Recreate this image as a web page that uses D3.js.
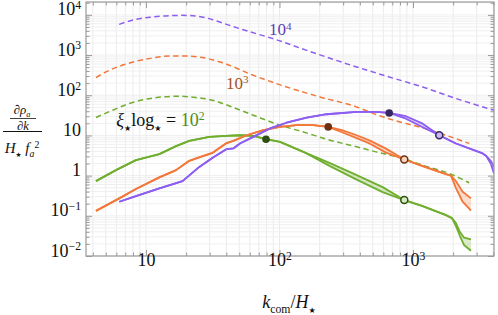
<!DOCTYPE html>
<html>
<head>
<meta charset="utf-8">
<script src="https://cdn.jsdelivr.net/npm/d3@7"></script>
<style>
  body { margin: 0; background: #fff; }
  text { font-family: 'Liberation Serif', 'DejaVu Serif', serif; }
</style>
</head>
<body>
<div id="chart"></div>
<script>
// ---- data ----
// dashed curves: xi*log = 1e4, 1e3, 1e2
const kDash4 = [6.3, 8.4, 11.2, 15.0, 18.8, 23.7, 31.6, 37.6, 50.6, 98, 160, 379, 664, 1180, 2100, 4050]
const vDash4 = [5810, 7730, 8820, 9550, 9720, 9330, 7600, 6250, 4520, 2320, 1310, 505, 285, 161, 82.8, 42.4]
const kDash3 = [4.22, 5.01, 6.31, 8.41, 11.2, 15.0, 20.0, 26.6, 37.6, 63.7, 113, 201, 379, 528, 746, 1115, 1766, 2640]
const vDash3 = [275, 380, 525, 700, 845, 947, 947, 865, 641, 314, 161, 90.7, 51.2, 33.1, 23.0, 16.3, 10.1, 6.3]
const kDash2 = [4.22, 5.63, 7.5, 10, 13.3, 17.7, 23.7, 31.6, 37.6, 63.7, 101, 151, 239, 379, 528, 837, 1180, 1870, 2640]
const vDash2 = [27.9, 42.4, 62.2, 79.6, 90.8, 94.5, 87.7, 75.2, 62.2, 31.8, 18.0, 12.2, 7.62, 5.2, 3.9, 2.67, 1.82, 1.13, 0.663]

// solid curves with their upper / lower edges (equal where there is no band)
const kGreen = [4.22, 5.96, 8.41, 12.6, 16.8, 21.1, 29.8, 39.7, 50.6, 63.6, 79.3, 101, 151, 239, 379, 593, 861, 1183, 1767, 1960, 2099, 2249, 2410, 2720]
const greenHi = [0.73, 1.37, 2.43, 3.42, 5.41, 7.33, 9.21, 9.75, 10.1, 9.75, 8.07, 6.92, 3.91, 2.05, 1.03, 0.517, 0.246, 0.175, 0.104, 0.0878, 0.066, 0.0394, 0.0288, 0.026]
const greenLo = [0.73, 1.37, 2.43, 3.42, 5.41, 7.33, 9.21, 9.75, 10.1, 9.75, 8.07, 6.92, 3.91, 1.72, 0.795, 0.389, 0.246, 0.175, 0.104, 0.0878, 0.0556, 0.0314, 0.0188, 0.0135]

const kOrange = [4.22, 6.31, 8.41, 12.6, 16.8, 21.1, 26.6, 31.6, 39.7, 45.1, 56.8, 75.7, 101, 134.6, 179, 232, 294, 379, 476, 628, 861, 1183, 1766, 1925, 2099, 2356, 2720]
const orangeHi = [0.133, 0.272, 0.463, 0.903, 1.37, 2.33, 3.05, 3.69, 6.31, 7.33, 10.1, 13.5, 16.3, 18.0, 18.0, 16.3, 13.5, 10.1, 7.41, 4.69, 2.52, 1.72, 1.09, 1.0, 0.73, 0.396, 0.271]
const orangeLo = [0.133, 0.272, 0.463, 0.903, 1.37, 2.33, 3.05, 3.69, 6.31, 7.33, 10.1, 13.5, 16.3, 18.0, 18.0, 16.3, 12.0, 8.55, 6.24, 3.73, 2.52, 1.72, 1.09, 1.0, 0.489, 0.224, 0.134]

const kPurple = [6.31, 8.41, 12.6, 18.8, 25.1, 31.6, 39.7, 45.1, 50.6, 63.6, 84.9, 113, 160, 226, 379, 528, 664, 887, 1183, 1574, 2099, 3327, 3524, 3841, 4046]
const purpleHi = [0.224, 0.31, 0.481, 0.73, 1.65, 2.77, 4.48, 4.74, 6.31, 9.21, 14.9, 20.7, 27.9, 33.7, 38.5, 38.5, 36.3, 30.1, 19.6, 10.1, 6.31, 3.56, 3.14, 2.29, 1.66]
const purpleLo = [0.224, 0.31, 0.481, 0.73, 1.65, 2.77, 4.48, 4.74, 6.31, 9.21, 14.9, 20.7, 27.9, 33.7, 38.5, 38.5, 36.3, 26.1, 16.0, 10.1, 6.31, 3.56, 3.14, 1.93, 1.13]

// markers: filled (peak) and open
const dotK = [79.3, 232, 664]
const dotV = [8.07, 16.3, 36.3]
const ringK = [861, 861, 1574]
const ringV = [0.246, 2.52, 10.1]

// ticks
const xMajor = [10, 100, 1000]
const xLabels = [['10', ''], ['10', '2'], ['10', '3']]
const yMajor = [0.01, 0.1, 1, 10, 100, 1000, 10000]
const yLabels = [['10', '\u22122'], ['10', '\u22121'], ['1', ''], ['10', ''], ['10', '2'], ['10', '3'], ['10', '4']]

// ---- layout ----
const W = 498
const H = 315
const margin = { top: 2, left: 86, right: 4, bottom: 59 }

const purple = '#8c5df0'
const orange = '#f2773a'
const green = '#70ae2f'
const STAR = '\u2605'

const svg = d3
  .select('#chart')
  .append('svg')
  .attr('width', W)
  .attr('height', H)

const x = d3
  .scaleLog()
  .domain([3.556, 4046])
  .range([margin.left, W - margin.right])
const y = d3
  .scaleLog()
  .domain([0.01, 20900])
  .range([H - margin.bottom, margin.top])

const minors = (scale, majors) => {
  const [a, b] = scale.domain()
  const out = []
  for (let e = -3; e <= 5; e++) {
    for (let m = 2; m <= 9; m++) {
      const v = m * Math.pow(10, e)
      if (v >= a && v <= b) out.push(v)
    }
  }
  return out.filter(v => !majors.includes(v))
}
const xMinor = minors(x, xMajor)
const yMinor = minors(y, yMajor)

svg
  .append('defs')
  .append('clipPath')
  .attr('id', 'clip')
  .append('rect')
  .attr('x', margin.left)
  .attr('y', margin.top)
  .attr('width', W - margin.left - margin.right)
  .attr('height', H - margin.top - margin.bottom)

// grid
const grid = svg.append('g')
grid
  .selectAll('.vgrid')
  .data(xMajor.concat(xMinor))
  .enter()
  .append('line')
  .attr('x1', d => x(d))
  .attr('x2', d => x(d))
  .attr('y1', margin.top)
  .attr('y2', H - margin.bottom)
  .attr('stroke', '#ebebeb')
grid
  .selectAll('.hgrid')
  .data(yMajor.concat(yMinor))
  .enter()
  .append('line')
  .attr('y1', d => y(d))
  .attr('y2', d => y(d))
  .attr('x1', margin.left)
  .attr('x2', W - margin.right)
  .attr('stroke', '#efefef')

const plot = svg.append('g').attr('clip-path', 'url(#clip)')

const zip = (ks, vs) => ks.map((k, i) => [k, vs[i]])
const line = d3
  .line()
  .x(d => x(d[0]))
  .y(d => y(d[1]))
const smooth = d3
  .line()
  .x(d => x(d[0]))
  .y(d => y(d[1]))
  .curve(d3.curveMonotoneX)

// dashed
;[[kDash4, vDash4, purple], [kDash3, vDash3, orange], [kDash2, vDash2, green]].forEach(([ks, vs, c]) => {
  plot
    .append('path')
    .attr('d', smooth(zip(ks, vs)))
    .attr('fill', 'none')
    .attr('stroke', c)
    .attr('stroke-width', 1.5)
    .attr('stroke-dasharray', '5.5,3.5')
})

// bands + solid lines
const area = d3
  .area()
  .x(d => x(d[0]))
  .y0(d => y(d[1]))
  .y1(d => y(d[2]))
;[
  [kGreen, greenHi, greenLo, green],
  [kOrange, orangeHi, orangeLo, orange],
  [kPurple, purpleHi, purpleLo, purple]
].forEach(([ks, hi, lo, c]) => {
  plot
    .append('path')
    .attr('d', area(ks.map((k, i) => [k, lo[i], hi[i]])))
    .attr('fill', c)
    .attr('fill-opacity', 0.25)
  ;[hi, lo].forEach(vs => {
    plot
      .append('path')
      .attr('d', line(zip(ks, vs)))
      .attr('fill', 'none')
      .attr('stroke', c)
      .attr('stroke-width', 1.8)
      .attr('stroke-linejoin', 'round')
  })
})

const dark = ['#2f4f12', '#6b3110', '#37265f']
const light = ['#d6ecc0', '#fbd3bd', '#c9b6f6']

plot
  .selectAll('.dot')
  .data(zip(dotK, dotV))
  .enter()
  .append('circle')
  .attr('cx', d => x(d[0]))
  .attr('cy', d => y(d[1]))
  .attr('r', 3.8)
  .attr('fill', (d, i) => dark[i])

plot
  .selectAll('.ring')
  .data(zip(ringK, ringV))
  .enter()
  .append('circle')
  .attr('cx', d => x(d[0]))
  .attr('cy', d => y(d[1]))
  .attr('r', 3.5)
  .attr('fill', (d, i) => light[i])
  .attr('stroke', (d, i) => dark[i])
  .attr('stroke-width', 1.5)

// rich text helper: sub/superscripts via dy
function rich(sel, parts, size) {
  let cur = 0
  parts.forEach(p => {
    const off = p.sub ? size * 0.25 : p.sup ? -size * 0.34 : 0
    const ts = sel
      .append('tspan')
      .text(p.t)
      .attr('dy', off - cur)
    cur = off
    if (p.sub || p.sup) ts.attr('font-size', size * (p.small || 0.65))
    if (p.it) ts.attr('font-style', 'italic')
    if (p.fill) ts.attr('fill', p.fill)
    if (p.font) ts.attr('font-family', p.font)
  })
}
const star = { t: STAR, sub: true, small: 0.45, font: 'DejaVu Sans' }

// curve labels
rich(
  svg
    .append('text')
    .attr('x', x(83.4))
    .attr('y', y(3100))
    .attr('font-size', 17)
    .attr('fill', '#5b3db5'),
  [{ t: '10' }, { t: '4', sup: true }],
  17
)
rich(
  svg
    .append('text')
    .attr('x', x(39.7))
    .attr('y', y(141))
    .attr('font-size', 17)
    .attr('fill', '#a4521e'),
  [{ t: '10' }, { t: '3', sup: true }],
  17
)
rich(
  svg
    .append('text')
    .attr('x', x(6.0))
    .attr('y', y(17))
    .attr('font-size', 18)
    .attr('fill', '#111'),
  [
    { t: '\u03be', it: true },
    star,
    { t: 'log' },
    star,
    { t: ' = ' },
    { t: '10', fill: '#4f8a1c' },
    { t: '2', sup: true, fill: '#4f8a1c' }
  ],
  18
)

// frame and ticks
const x0 = margin.left
const x1 = W - margin.right
const y0 = H - margin.bottom
const y1 = margin.top
const axisColor = '#9a9a9a'

svg
  .append('rect')
  .attr('x', x0)
  .attr('y', y1)
  .attr('width', x1 - x0)
  .attr('height', y0 - y1)
  .attr('fill', 'none')
  .attr('stroke', axisColor)
  .attr('stroke-width', 1.2)

const styleAxis = g => {
  g.select('.domain').remove()
  g.selectAll('.tick line').attr('stroke', axisColor)
}

svg
  .append('g')
  .attr('transform', `translate(0,${y0})`)
  .call(d3.axisBottom(x).tickValues(xMinor).tickSize(-3.5).tickFormat(''))
  .call(styleAxis)
svg
  .append('g')
  .attr('transform', `translate(0,${y1})`)
  .call(d3.axisTop(x).tickValues(xMinor).tickSize(-3.5).tickFormat(''))
  .call(styleAxis)
svg
  .append('g')
  .attr('transform', `translate(0,${y1})`)
  .call(d3.axisTop(x).tickValues(xMajor).tickSize(-6).tickFormat(''))
  .call(styleAxis)
svg
  .append('g')
  .attr('transform', `translate(${x0},0)`)
  .call(d3.axisLeft(y).tickValues(yMinor).tickSize(-3.5).tickFormat(''))
  .call(styleAxis)
svg
  .append('g')
  .attr('transform', `translate(${x1},0)`)
  .call(d3.axisRight(y).tickValues(yMinor).tickSize(-3.5).tickFormat(''))
  .call(styleAxis)
svg
  .append('g')
  .attr('transform', `translate(${x1},0)`)
  .call(d3.axisRight(y).tickValues(yMajor).tickSize(-6).tickFormat(''))
  .call(styleAxis)

const xAxis = svg
  .append('g')
  .attr('transform', `translate(0,${y0})`)
  .call(d3.axisBottom(x).tickValues(xMajor).tickSize(-6).tickPadding(10).tickFormat(''))
  .call(styleAxis)
xAxis
  .selectAll('.tick text')
  .attr('font-size', 18)
  .attr('fill', '#111')
  .attr('font-family', "'Liberation Serif', serif")
  .each(function(d, i) {
    const lab = xLabels[i]
    const parts = [{ t: lab[0] }]
    if (lab[1]) parts.push({ t: lab[1], sup: true })
    rich(d3.select(this).attr('dy', '0.71em'), parts, 18)
  })

const yAxis = svg
  .append('g')
  .attr('transform', `translate(${x0},0)`)
  .call(d3.axisLeft(y).tickValues(yMajor).tickSize(-6).tickPadding(5).tickFormat(''))
  .call(styleAxis)
yAxis
  .selectAll('.tick text')
  .attr('font-size', 18)
  .attr('fill', '#111')
  .attr('font-family', "'Liberation Serif', serif")
  .each(function(d, i) {
    const lab = yLabels[i]
    const parts = [{ t: lab[0] }]
    if (lab[1]) parts.push({ t: lab[1], sup: true })
    rich(d3.select(this).attr('dy', '0.32em'), parts, 18)
  })

// axis titles
rich(
  svg
    .append('text')
    .attr('x', 289)
    .attr('y', 308)
    .attr('text-anchor', 'middle')
    .attr('font-size', 18)
    .attr('fill', '#111'),
  [
    { t: 'k', it: true },
    { t: 'com', sub: true },
    { t: '/' },
    { t: 'H', it: true },
    { t: STAR, sub: true, small: 0.45, font: 'DejaVu Sans' }
  ],
  18
)

const yt = svg.append('g').attr('fill', '#111')
rich(
  yt
    .append('text')
    .attr('x', 22)
    .attr('y', 114)
    .attr('text-anchor', 'middle')
    .attr('font-size', 13),
  [{ t: '\u2202\u03c1', it: true }, { t: 'a', it: true, sub: true, small: 0.75 }],
  11
)
yt.append('line')
  .attr('x1', 10)
  .attr('x2', 36)
  .attr('y1', 118.5)
  .attr('y2', 118.5)
  .attr('stroke', '#111')
  .attr('stroke-width', 0.8)
rich(
  yt
    .append('text')
    .attr('x', 23)
    .attr('y', 129.5)
    .attr('text-anchor', 'middle')
    .attr('font-size', 12.5),
  [{ t: '\u2202k', it: true }],
  12.5
)
yt.append('line')
  .attr('x1', 3)
  .attr('x2', 42)
  .attr('y1', 131.5)
  .attr('y2', 131.5)
  .attr('stroke', '#111')
  .attr('stroke-width', 1)
rich(
  yt
    .append('text')
    .attr('x', 22)
    .attr('y', 153)
    .attr('text-anchor', 'middle')
    .attr('font-size', 15),
  [
    { t: 'H', it: true },
    { t: STAR, sub: true, small: 0.45, font: 'DejaVu Sans' },
    { t: ' f', it: true },
    { t: 'a', it: true, sub: true },
    { t: '2', sup: true }
  ],
  15
)
</script>
</body>
</html>
